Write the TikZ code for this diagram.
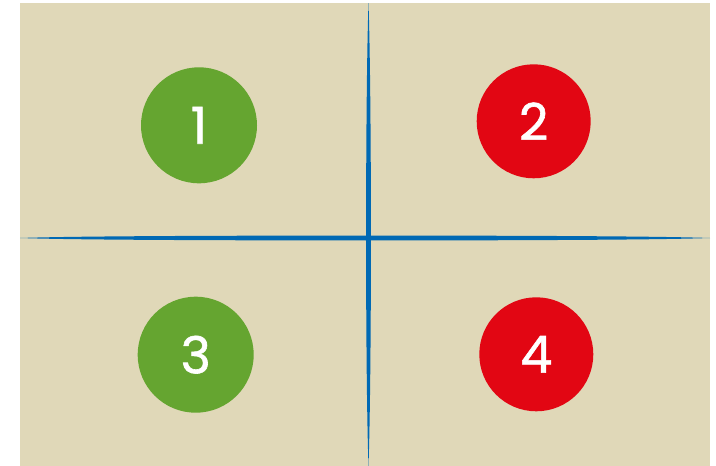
\documentclass[tikz,border=0pt]{standalone}
\usepackage{fontspec}
\newfontfamily\numfont[FakeBold=1.2]{Poppins}
\definecolor{bg}{HTML}{E0D8B8}
\definecolor{cgreen}{HTML}{65A530}
\definecolor{cred}{HTML}{E20613}
\definecolor{cblue}{HTML}{0069B4}
\begin{document}
\begin{tikzpicture}[x=1pt,y=-1pt,
  numcirc/.style={circle,inner sep=0pt,minimum size=116pt,text=white,font=\numfont\fontsize{51}{51}\selectfont},
  axis/.style={fill=cblue,draw=none}]
\useasboundingbox (0,0) rectangle (716,466);
\fill[bg] (20,3) rectangle (710,466);
\coordinate (O) at (368.5,238);
% horizontal axis
\fill[axis] (20,238) .. controls (60,236.6) and (150,235.7) .. (368.5,235.5)
  .. controls (580,235.7) and (670,236.6) .. (710,238)
  .. controls (670,239.4) and (580,240.3) .. (368.5,240.5)
  .. controls (150,240.3) and (60,239.4) .. (20,238) -- cycle;
% vertical axis
\fill[axis] (368.5,3) .. controls (369.9,45) and (370.8,120) .. (371,238)
  .. controls (370.8,350) and (369.9,425) .. (368.5,466)
  .. controls (367.1,425) and (366.2,350) .. (366,238)
  .. controls (366.2,120) and (367.1,45) .. (368.5,3) -- cycle;
\node[numcirc,fill=cgreen] (c1) at (199,125.3) {1};
\node[numcirc,fill=cred,minimum size=114pt] (c2) at (533.7,121.3) {2};
\node[numcirc,fill=cgreen] (c3) at (195.7,354.7) {3};
\node[numcirc,fill=cred,minimum size=114pt] (c4) at (536.3,354.3) {4};
\end{tikzpicture}
\end{document}
